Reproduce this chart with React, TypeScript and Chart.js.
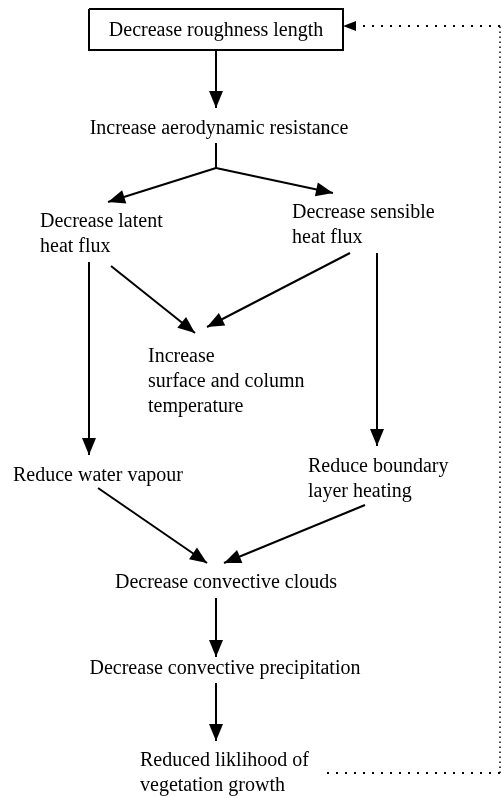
import React, { useEffect, useRef } from "react";
import { Chart, registerables } from "chart.js";

Chart.register(...registerables);

// Node labels (one entry per line of text)
const NODE_TEXT: string[][] = [
  ["Decrease roughness length"],
  ["Increase aerodynamic resistance"],
  ["Decrease latent", "heat flux"],
  ["Decrease sensible", "heat flux"],
  ["Increase", "surface and column", "temperature"],
  ["Reduce water vapour"],
  ["Reduce boundary", "layer heating"],
  ["Decrease convective clouds"],
  ["Decrease convective precipitation"],
  ["Reduced liklihood of", "vegetation growth"],
];
// Node anchor positions in diagram units (x, first-line baseline y)
const NODE_X = [216, 219, 40, 292, 148, 13, 308, 226, 225, 140];
const NODE_Y = [36, 134, 227, 218, 362, 481, 472, 588, 674, 766];
const NODE_ALIGN = ["center", "center", "left", "left", "left", "left", "left", "center", "center", "left"];

// Framed node (the first one)
const BOX_X = [89, 343, 343, 89, 89];
const BOX_Y = [9, 9, 50, 50, 9];

// Solid connectors
const EDGE_X1 = [216, 216, 216, 216, 89, 111, 350, 377, 98, 365, 216, 216];
const EDGE_Y1 = [50, 143, 168, 168, 262, 266, 253, 253, 488, 505, 598, 683];
const EDGE_X2 = [216, 216, 108, 333, 89, 195, 207, 377, 207, 224, 216, 216];
const EDGE_Y2 = [108, 168, 202, 193, 455, 333, 327, 446, 563, 563, 657, 741];
const EDGE_ARROW = [true, false, true, true, true, true, true, true, true, true, true, true];

// Dotted feedback loop: bottom run, vertical run, top run (ends at box edge)
const LOOP_BOTTOM_X = [327, 500];
const LOOP_BOTTOM_Y = [773, 773];
const LOOP_SIDE_X = [500, 500];
const LOOP_SIDE_Y = [773, 26];
const LOOP_TOP_X = [500, 343];
const LOOP_TOP_Y = [26, 26];

const W = 502;
const H = 798;
const FONT = '20px "Liberation Serif", "Times New Roman", Times, serif';

export default function App() {
  const ref = useRef<HTMLCanvasElement | null>(null);

  useEffect(() => {
    const canvas = ref.current;
    if (!canvas) return;

    const lineSet = (pts: { x: number; y: number }[], extra: any = {}) => ({
      type: "line" as const,
      data: pts,
      borderColor: "#000",
      borderWidth: 2,
      pointRadius: 0,
      showLine: true,
      fill: false,
      clip: false as any,
      ...extra,
    });

    const edgeSets = EDGE_X1.map((_, i) =>
      lineSet([
        { x: EDGE_X1[i], y: EDGE_Y1[i] },
        { x: EDGE_X2[i], y: EDGE_Y2[i] },
      ])
    );

    const boxSet = lineSet(BOX_X.map((x, i) => ({ x, y: BOX_Y[i] })));

    const bottomSet = lineSet(
      LOOP_BOTTOM_X.map((x, i) => ({ x, y: LOOP_BOTTOM_Y[i] })),
      { borderDash: [2, 7] }
    );
    const sideSet = lineSet(
      LOOP_SIDE_X.map((x, i) => ({ x, y: LOOP_SIDE_Y[i] })),
      { borderDash: [1.5, 3.5], borderWidth: 1.5 }
    );
    const topSet = lineSet(
      [
        { x: LOOP_TOP_X[0], y: LOOP_TOP_Y[0] },
        { x: LOOP_TOP_X[1] + 16, y: LOOP_TOP_Y[1] },
      ],
      { borderDash: [2, 7] }
    );

    const drawArrow = (ctx: CanvasRenderingContext2D, x1: number, y1: number, x2: number, y2: number, len: number, half: number) => {
      const a = Math.atan2(y2 - y1, x2 - x1);
      ctx.beginPath();
      ctx.moveTo(x2, y2);
      ctx.lineTo(x2 - len * Math.cos(a) + half * Math.sin(a), y2 - len * Math.sin(a) - half * Math.cos(a));
      ctx.lineTo(x2 - len * Math.cos(a) - half * Math.sin(a), y2 - len * Math.sin(a) + half * Math.cos(a));
      ctx.closePath();
      ctx.fill();
    };

    const diagramPlugin = {
      id: "diagram",
      afterDatasetsDraw(chart: any) {
        const ctx: CanvasRenderingContext2D = chart.ctx;
        const xs = chart.scales.x;
        const ys = chart.scales.y;
        ctx.save();
        ctx.fillStyle = "#000";
        EDGE_X1.forEach((_, i) => {
          if (!EDGE_ARROW[i]) return;
          drawArrow(
            ctx,
            xs.getPixelForValue(EDGE_X1[i]),
            ys.getPixelForValue(EDGE_Y1[i]),
            xs.getPixelForValue(EDGE_X2[i]),
            ys.getPixelForValue(EDGE_Y2[i]),
            17,
            7
          );
        });
        drawArrow(
          ctx,
          xs.getPixelForValue(LOOP_TOP_X[0]),
          ys.getPixelForValue(LOOP_TOP_Y[0]),
          xs.getPixelForValue(LOOP_TOP_X[1]),
          ys.getPixelForValue(LOOP_TOP_Y[1]),
          13,
          5
        );
        ctx.font = FONT;
        ctx.textBaseline = "alphabetic";
        NODE_TEXT.forEach((lines, i) => {
          ctx.textAlign = NODE_ALIGN[i] as CanvasTextAlign;
          lines.forEach((line, j) => {
            ctx.fillText(line, xs.getPixelForValue(NODE_X[i]), ys.getPixelForValue(NODE_Y[i] + j * 25));
          });
        });
        ctx.restore();
      },
    };

    const chart = new Chart(canvas, {
      type: "scatter",
      data: { datasets: [boxSet, ...edgeSets, bottomSet, sideSet, topSet] as any },
      options: {
        animation: false,
        responsive: false,
        maintainAspectRatio: false,
        layout: { padding: 0 },
        events: [],
        scales: {
          x: { type: "linear", min: 0, max: W, display: false },
          y: { type: "linear", min: 0, max: H, reverse: true, display: false },
        },
        plugins: { legend: { display: false }, tooltip: { enabled: false }, title: { display: false } },
      },
      plugins: [diagramPlugin],
    });
    return () => chart.destroy();
  }, []);

  return (
    <div style={{ position: "absolute", left: 0, top: 0, width: W, height: H, background: "#fff" }}>
      <canvas ref={ref} width={W} height={H} style={{ width: W, height: H, display: "block" }} />
    </div>
  );
}
